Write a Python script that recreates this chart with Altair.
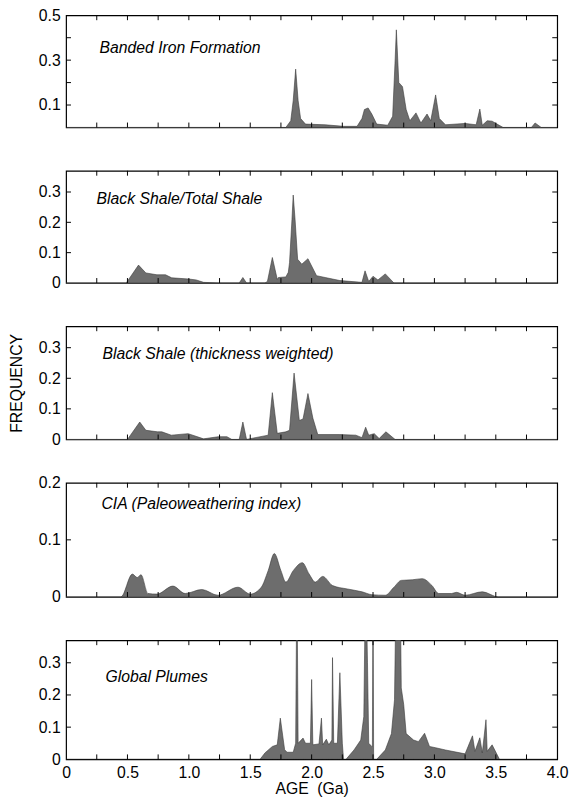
import altair as alt
import pandas as pd

FONT = "Liberation Sans"
W = 499

# ---------------- data ----------------
BIF_AGE = [0.0, 1.79, 1.83, 1.85, 1.87, 1.89, 1.91, 1.95, 2.11, 2.26, 2.37, 2.41, 2.43, 2.46,
           2.49, 2.53, 2.62, 2.66, 2.68, 2.69, 2.71, 2.74, 2.77, 2.80, 2.85, 2.89, 2.94, 2.97,
           3.01, 3.04, 3.09, 3.25, 3.34, 3.37, 3.39, 3.43, 3.47, 3.51, 3.56, 3.79, 3.82, 3.87, 4.0]
BIF_FREQ = [0, 0, 0.03, 0.12, 0.26, 0.12, 0.04, 0.015, 0.012, 0.005, 0.005, 0.04, 0.08, 0.087,
            0.06, 0.015, 0.01, 0.05, 0.30, 0.435, 0.20, 0.182, 0.08, 0.03, 0.065, 0.02, 0.06, 0.03,
            0.145, 0.04, 0.012, 0.018, 0.012, 0.082, 0.01, 0.03, 0.028, 0.015, 0, 0, 0.02, 0, 0]

BSTS_AGE = [0.0, 0.49, 0.59, 0.65, 0.74, 0.81, 0.86, 1.0, 1.06, 1.12, 1.24, 1.41, 1.44, 1.47,
            1.62, 1.64, 1.68, 1.72, 1.73, 1.79, 1.81, 1.82, 1.84, 1.85, 1.865, 1.886, 1.92, 1.97,
            2.0, 2.04, 2.11, 2.23, 2.41, 2.435, 2.465, 2.50, 2.54, 2.60, 2.67, 4.0]
BSTS_FREQ = [0, 0, 0.059, 0.033, 0.027, 0.027, 0.017, 0.013, 0.01, 0.002, 0, 0, 0.018, 0,
             0, 0.005, 0.084, 0.012, 0.018, 0.02, 0.035, 0.067, 0.21, 0.29, 0.21, 0.078, 0.062, 0.08,
             0.056, 0.024, 0.018, 0.008, 0.002, 0.04, 0.005, 0.022, 0.01, 0.03, 0, 0]

BSTW_AGE = [0.0, 0.50, 0.60, 0.65, 0.745, 0.78, 0.857, 0.994, 1.12, 1.24, 1.31, 1.35, 1.41, 1.44,
            1.47, 1.53, 1.646, 1.68, 1.72, 1.79, 1.82, 1.857, 1.90, 1.93, 1.97, 2.01, 2.05, 2.23,
            2.36, 2.41, 2.44, 2.465, 2.51, 2.55, 2.605, 2.68, 4.0]
BSTW_FREQ = [0, 0, 0.057, 0.03, 0.025, 0.025, 0.014, 0.019, 0.002, 0.009, 0.009, 0, 0, 0.057,
             0, 0.005, 0.014, 0.153, 0.02, 0.025, 0.03, 0.217, 0.062, 0.067, 0.15, 0.07, 0.016, 0.016,
             0.014, 0.006, 0.04, 0.014, 0.019, 0.003, 0.025, 0, 0]

CIA_AGE = [0.0, 0.447, 0.54, 0.58, 0.61, 0.667, 0.74, 0.87, 0.97, 1.105, 1.237, 1.40, 1.50, 1.59,
           1.646, 1.696, 1.75, 1.79, 1.85, 1.924, 1.98, 2.03, 2.09, 2.17, 2.29, 2.41, 2.49, 2.60,
           2.67, 2.73, 2.82, 2.90, 2.98, 3.035, 3.14, 3.18, 3.25, 3.39, 3.52, 4.0]
CIA_FREQ = [0, 0, 0.04, 0.034, 0.039, 0.006, 0.005, 0.019, 0.006, 0.013, 0.003, 0.017, 0.005, 0.017,
            0.046, 0.076, 0.046, 0.026, 0.046, 0.06, 0.04, 0.026, 0.036, 0.02, 0.014, 0.009, 0.004, 0.003,
            0.017, 0.029, 0.03, 0.032, 0.02, 0.006, 0.006, 0.008, 0.003, 0.009, 0, 0]

PLUME_AGE = [0.0, 1.58, 1.62, 1.68, 1.72, 1.745, 1.78, 1.80, 1.85, 1.87, 1.88, 1.89, 1.93, 1.95,
             1.99, 2.00, 2.01, 2.06, 2.08, 2.09, 2.12, 2.14, 2.165, 2.17, 2.18, 2.21, 2.23, 2.25,
             2.26, 2.28, 2.345, 2.40, 2.425, 2.44, 2.455, 2.465, 2.49, 2.495, 2.50, 2.505, 2.53,
             2.60, 2.65, 2.675, 2.69, 2.72, 2.73, 2.75, 2.77, 2.83, 2.87, 2.92, 2.96, 3.01, 3.09,
             3.25, 3.31, 3.33, 3.37, 3.39, 3.42, 3.43, 3.47, 3.53, 4.0]
PLUME_FREQ = [0, 0, 0.02, 0.04, 0.045, 0.128, 0.03, 0.022, 0.022, 0.05, 0.6, 0.05, 0.066, 0.05,
              0.05, 0.248, 0.045, 0.048, 0.128, 0.045, 0.0625, 0.045, 0.06, 0.316, 0.05, 0.05, 0.269, 0.05,
              0, 0, 0.029, 0.06, 0.133, 0.6, 0.3, 0.05, 0.04, 0.04, 0.6, 0, 0,
              0.029, 0.08, 0.185, 0.6, 0.6, 0.222, 0.17, 0.08, 0.06, 0.055, 0.081, 0.04, 0.036, 0.029,
              0.017, 0.073, 0.025, 0.067, 0.02, 0.123, 0.025, 0.045, 0, 0]

NAMES = ["Banded Iron Formation", "Black Shale/Total Shale", "Black Shale (thickness weighted)",
         "CIA (Paleoweathering index)", "Global Plumes"]
X_TICKS = [0.25 * i for i in range(1, 16)]
X_LABELS = [0, 0.5, 1.0, 1.5, 2.0, 2.5, 3.0, 3.5, 4.0]

LABEL_EXPR = "datum.value == 0 ? '0' : format(datum.value, '.1f')"


def panel(name, ages, freqs, ydomain, ylabels, yticks, height, tx, ty,
          interp="linear", show_x=False, ytitle=None):
    assert len(ages) == len(freqs), name
    df = pd.DataFrame({"age": ages, "freq": freqs})

    if show_x:
        xaxis = alt.Axis(values=X_LABELS, labelExpr=LABEL_EXPR, ticks=False, domain=False,
                         grid=False, labelFontSize=16, labelFont=FONT, labelColor="black",
                         labelPadding=5, labelFlush=False, labelOverlap=False,
                         title="AGE \u00a0(Ga)", titleFont=FONT, titleFontSize=16,
                         titleFontWeight="normal", titleColor="black", titlePadding=1)
    else:
        xaxis = None

    yaxis_kw = dict(values=ylabels, labelExpr=LABEL_EXPR, ticks=False, domain=False, grid=False,
                    labelFontSize=16, labelFont=FONT, labelColor="black", labelPadding=6,
                    labelOverlap=False, labelFlush=False)
    if ytitle:
        yaxis = alt.Axis(title=ytitle, titleFont=FONT, titleFontSize=16, titleFontWeight="normal",
                         titleColor="black", titleX=-50, titleY=height / 2, titleAngle=270,
                         titleAlign="center", titleBaseline="middle", **yaxis_kw)
    else:
        yaxis = alt.Axis(title=None, **yaxis_kw)

    xs = alt.Scale(domain=[0, 4], nice=False, zero=False)
    ys = alt.Scale(domain=ydomain, nice=False, zero=False)

    x_enc = alt.X("age:Q", scale=xs, axis=xaxis)
    y_enc = alt.Y("freq:Q", scale=ys, axis=yaxis)

    area = alt.Chart(df).mark_area(
        clip=True, interpolate=interp, color="#6d6d6d", stroke="#3a3a3a", strokeWidth=0.6
    ).encode(x=x_enc, y=y_enc, y2=alt.datum(ydomain[0]))

    xt = pd.DataFrame({"age": X_TICKS})
    top_ticks = alt.Chart(xt).mark_rule(color="black", strokeWidth=1).encode(
        x=x_enc, y=alt.value(0), y2=alt.value(5))
    bot_ticks = alt.Chart(xt).mark_rule(color="black", strokeWidth=1).encode(
        x=x_enc, y=alt.value(height), y2=alt.value(height - 5))

    yt = pd.DataFrame({"freq": yticks})
    left_ticks = alt.Chart(yt).mark_rule(color="black", strokeWidth=1).encode(
        y=y_enc, x=alt.value(0), x2=alt.value(5))
    right_ticks = alt.Chart(yt).mark_rule(color="black", strokeWidth=1).encode(
        y=y_enc, x=alt.value(W), x2=alt.value(W - 5))

    label = alt.Chart(pd.DataFrame({"t": [name]})).mark_text(
        align="left", baseline="middle", font=FONT, fontSize=16, fontStyle="italic", color="black"
    ).encode(x=alt.value(tx), y=alt.value(ty), text="t:N")

    return alt.layer(area, top_ticks, bot_ticks, left_ticks, right_ticks, label).properties(
        width=W, height=height)


p1 = panel(NAMES[0], BIF_AGE, BIF_FREQ, [0, 0.5], [0.1, 0.3, 0.5], [0.1, 0.2, 0.3, 0.4],
           114, 34, 33)
p2 = panel(NAMES[1], BSTS_AGE, BSTS_FREQ, [0, 0.37], [0, 0.1, 0.2, 0.3], [0.1, 0.2, 0.3],
           114, 31, 29)
p3 = panel(NAMES[2], BSTW_AGE, BSTW_FREQ, [0, 0.37], [0, 0.1, 0.2, 0.3], [0.1, 0.2, 0.3],
           115, 37, 28, ytitle="FREQUENCY")
p4 = panel(NAMES[3], CIA_AGE, CIA_FREQ, [0, 0.2], [0, 0.1, 0.2], [0.1],
           116, 36, 22, interp="monotone")
p5 = panel(NAMES[4], PLUME_AGE, PLUME_FREQ, [0, 0.37], [0, 0.1, 0.2, 0.3], [0.1, 0.2, 0.3],
           121, 40, 37, show_x=True)

chart = alt.vconcat(p1, p2, p3, p4, p5, spacing=44, bounds="flush").resolve_scale(
    y="independent"
).properties(
    padding={"left": 0, "top": -8, "right": 0, "bottom": 0}, background="white"
).configure_view(stroke="black", strokeWidth=1.2)

chart.save("out.html", embed_options={"renderer": "svg", "actions": False})
